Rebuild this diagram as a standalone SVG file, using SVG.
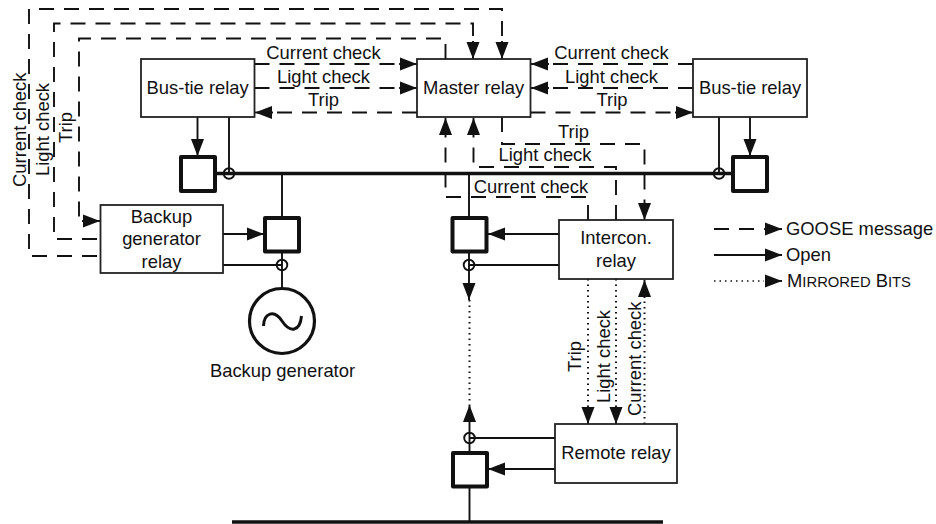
<svg xmlns="http://www.w3.org/2000/svg" width="936" height="524" viewBox="0 0 936 524">
<style>
text{font-family:"Liberation Sans",Arial,sans-serif;font-size:18.4px;fill:#111}
.m{text-anchor:middle}
.box{fill:#fff;stroke:#222;stroke-width:1.8}
.brk{fill:#fff;stroke:#111;stroke-width:4;stroke-linejoin:round}
.c{fill:none;stroke:#111;stroke-width:1.9}
.s{fill:none;stroke:#111;stroke-width:1.9}
.d{fill:none;stroke:#111;stroke-width:1.9;stroke-dasharray:15 10}
.o{fill:none;stroke:#111;stroke-width:2;stroke-dasharray:1.5 4}
.bus{fill:none;stroke:#111;stroke-width:3.5}
.a{marker-end:url(#ah)}
</style>
<defs>
<marker id="ah" markerUnits="userSpaceOnUse" markerWidth="18" markerHeight="14" refX="17" refY="7" orient="auto"><path d="M0 0.500L17 7L0 13.500Z" fill="#111"/></marker>
</defs>
<g id="connectors">
<path class="bus" d="M215 173.500H733"/>
<path class="bus" d="M232 522H663"/>
<path class="s" d="M282 173.500V217M282 252V293M469 173.500V217M469.500 487V522"/>
<path class="s a" d="M197.500 117V156"/>
<path class="s" d="M229 117V173"/>
<path class="s a" d="M750 117V156"/>
<path class="s" d="M719 117V173"/>
<path class="s a" d="M223 234H264"/>
<path class="s" d="M223 265H282"/>
<path class="s a" d="M559 234H488"/>
<path class="s" d="M559 265H469"/>
<path class="s a" d="M469 252V300"/>
<path class="s a" d="M469.500 452V405"/>
<path class="s" d="M555 438H469"/>
<path class="s a" d="M555 469H488"/>
<path class="o" d="M469.500 300V405"/>
<path class="d" d="M97 256H29V9H502V42"/><path class="s a" d="M502 41V59"/>
<path class="d" d="M97 239H54V23.500H473V42"/><path class="s a" d="M473 41V59"/>
<path class="d" d="M445.500 59V38.500H79V221H84"/><path class="s a" d="M82 221H100"/>
<path class="d" d="M254.500 64H400"/><path class="s a" d="M399 64H417"/>
<path class="d" d="M254.500 88H400"/><path class="s a" d="M399 88H417"/>
<path class="d" d="M417 112.500H272"/><path class="s a" d="M273 112.500H255"/>
<path class="d" d="M693 64H548"/><path class="s a" d="M549 64H531"/>
<path class="d" d="M693 88H548"/><path class="s a" d="M549 88H531"/>
<path class="d" d="M530.500 112.500H675"/><path class="s a" d="M675 112.500H693"/>
<path class="d" d="M588 220V197H445.500V136"/><path class="s a" d="M445.500 136V118"/>
<path class="d" d="M616 220V167H473.500V136"/><path class="s a" d="M473.500 136V118"/>
<path class="d" d="M502 117V144H644.500V202"/><path class="s a" d="M644.500 202V220"/>
<path class="o" d="M588 279V406"/><path class="s a" d="M588 406V424"/>
<path class="o" d="M616 279V406"/><path class="s a" d="M616 406V424"/>
<path class="o" d="M644.500 424V298"/><path class="s a" d="M644.500 298V280"/>
<path class="d" d="M714 229H764"/><path class="s a" d="M764 229H782"/>
<path class="s a" d="M714 255H782"/>
<path class="o" style="stroke-width:1.600" d="M714 281H764"/><path class="s a" d="M765 281H782"/>
</g>
<g id="bus-tie-left"><rect class="box" x="141" y="59" width="113.500" height="58"/><text class="m" x="197.700" y="94">Bus-tie relay</text></g>
<g id="master"><rect class="box" x="417" y="59" width="113.500" height="58"/><text class="m" x="473.700" y="94">Master relay</text></g>
<g id="bus-tie-right"><rect class="box" x="693" y="59" width="114" height="58"/><text class="m" x="750" y="94">Bus-tie relay</text></g>
<g id="backup-relay"><rect class="box" x="100.500" y="205" width="122.500" height="68"/><text class="m" x="161.500" y="223">Backup</text><text class="m" x="161.500" y="245">generator</text><text class="m" x="161.500" y="268">relay</text></g>
<g id="intercon"><rect class="box" x="559" y="220" width="114" height="59"/><text class="m" x="616" y="244">Intercon.</text><text class="m" x="616" y="267">relay</text></g>
<g id="remote"><rect class="box" x="555" y="424" width="122" height="59"/><text class="m" x="616" y="459">Remote relay</text></g>
<g id="breaker-left"><rect class="brk" x="181" y="157" width="34" height="34"/></g>
<g id="breaker-right"><rect class="brk" x="733" y="157" width="34" height="34"/></g>
<g id="breaker-gen"><rect class="brk" x="265" y="218" width="34" height="33.500"/></g>
<g id="breaker-center"><rect class="brk" x="452.500" y="218" width="34" height="33.500"/></g>
<g id="breaker-remote"><rect class="brk" x="453" y="453" width="34" height="33.500"/></g>
<g id="ct-left"><circle class="c" cx="229" cy="173.500" r="5.300"/></g>
<g id="ct-right"><circle class="c" cx="719" cy="173.500" r="5.300"/></g>
<g id="ct-gen"><circle class="c" cx="282" cy="265" r="5.300"/></g>
<g id="ct-center"><circle class="c" cx="469" cy="265" r="5.300"/></g>
<g id="ct-remote"><circle class="c" cx="469.500" cy="438" r="5.300"/></g>
<g id="generator"><circle cx="282" cy="321" r="32.500" fill="#fff" stroke="#111" stroke-width="3.200"/><path d="M263.500 326C264 313 274 309 282 321S300 332 301.500 316" fill="none" stroke="#111" stroke-width="3"/><text class="m" x="282.500" y="377">Backup generator</text></g>
<g id="labels">
<text class="m" x="323.500" y="59">Current check</text>
<text class="m" x="323.500" y="83">Light check</text>
<text class="m" x="323.500" y="106">Trip</text>
<text class="m" x="611.500" y="59">Current check</text>
<text class="m" x="611.500" y="83">Light check</text>
<text class="m" x="612" y="106">Trip</text>
<text class="m" x="573.500" y="138">Trip</text>
<text class="m" x="545" y="161">Light check</text>
<text class="m" x="531" y="193">Current check</text>
<text transform="translate(26 187) rotate(-90)">Current check</text>
<text transform="translate(49 176) rotate(-90)">Light check</text>
<text transform="translate(72 143) rotate(-90)">Trip</text>
<text transform="translate(581 372) rotate(-90)">Trip</text>
<text transform="translate(610 403) rotate(-90)">Light check</text>
<text transform="translate(641 416) rotate(-90)">Current check</text>
<text x="786" y="235">GOOSE message</text>
<text x="786" y="261">Open</text>
<text x="787" y="287">M<tspan font-size="14.800">IRRORED</tspan> B<tspan font-size="14.800">ITS</tspan></text>
</g>
</svg>
